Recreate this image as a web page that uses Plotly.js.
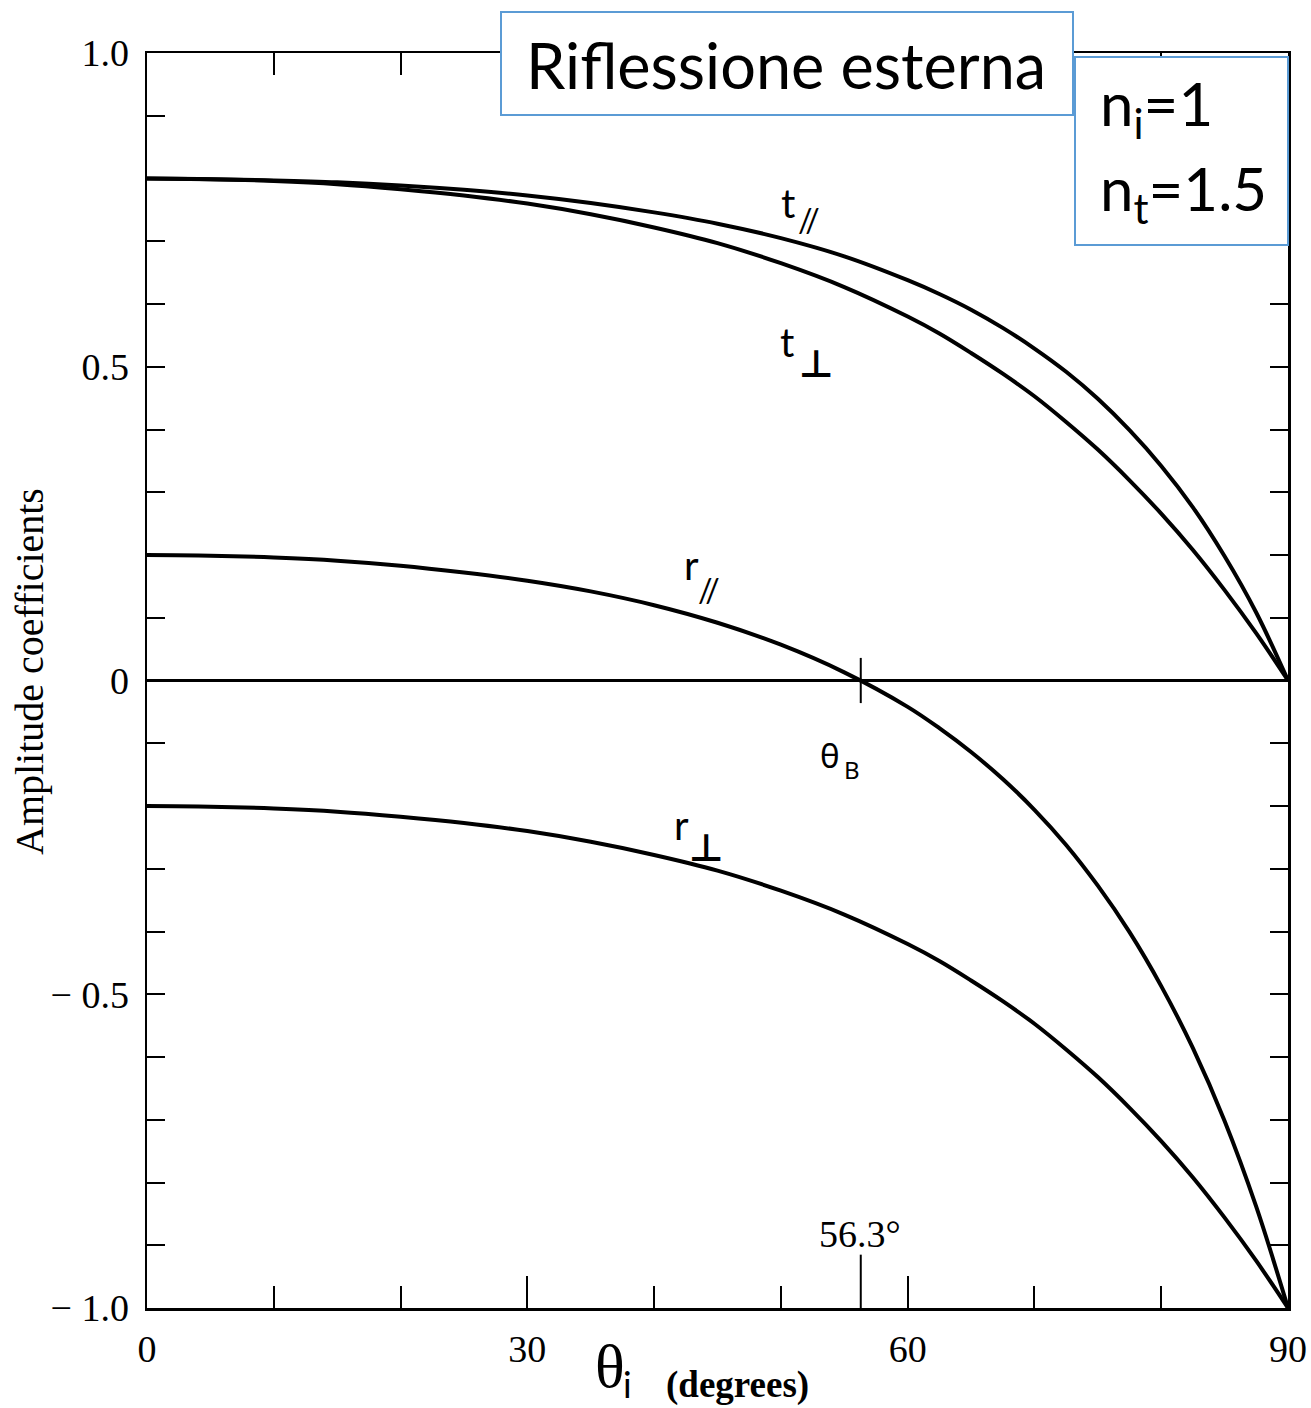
<!DOCTYPE html>
<html><head><meta charset="utf-8">
<script src="https://cdn.plot.ly/plotly-3.0.1.min.js"></script>
<style>html,body{margin:0;padding:0;background:#fff}</style>
</head><body><div id="chart" style="width:1311px;height:1408px"></div>
<script>
// ---- data ----
const theta = [0, 5, 10, 15, 20, 25, 30, 35, 40, 45, 50, 55, 60, 62.5, 65, 67.5, 70, 72.5, 75, 77.5, 80, 82.5, 85, 87.5, 90];
const tPar  = [0.800, 0.799, 0.797, 0.794, 0.789, 0.782, 0.773, 0.761, 0.746, 0.728, 0.705, 0.676, 0.638, 0.616, 0.591, 0.562, 0.529, 0.492, 0.449, 0.399, 0.342, 0.276, 0.198, 0.108, 0.000];
const tPerp = [0.800, 0.799, 0.796, 0.791, 0.783, 0.773, 0.760, 0.743, 0.722, 0.697, 0.665, 0.627, 0.580, 0.553, 0.522, 0.489, 0.453, 0.412, 0.368, 0.319, 0.266, 0.208, 0.144, 0.075, 0.000];
const rPar  = [0.200, 0.199, 0.196, 0.191, 0.183, 0.172, 0.159, 0.142, 0.120, 0.092, 0.057, 0.013, -0.042, -0.076, -0.114, -0.157, -0.206, -0.262, -0.327, -0.401, -0.487, -0.586, -0.702, -0.839, -1.000];
const rPerp = [-0.200, -0.201, -0.204, -0.209, -0.217, -0.227, -0.240, -0.257, -0.278, -0.303, -0.335, -0.373, -0.420, -0.447, -0.478, -0.511, -0.547, -0.588, -0.632, -0.681, -0.734, -0.792, -0.856, -0.925, -1.000];
const brewsterAngle = 56.3;
const xTickVals = [0, 30, 60, 90];
const xTickText = ['0', '30', '60', '90'];
const yTickVals = [-1, -0.5, 0, 0.5, 1];
const yTickText = ['\u2212 1.0', '\u2212 0.5', '0', '0.5', '1.0'];

// ---- layout helpers (pixel -> paper) ----
const W = 1311, H = 1408, L = 147, R = 1288, T = 53, B = 1308;
const px = x => (x - L) / (R - L);
const py = y => (B - y) / (B - T);

const SERIF = 'Liberation Serif, Times New Roman, serif';
const SANS = 'Lato, Carlito, Calibri, sans-serif';

function curve(y) {
  return {x: theta, y: y, mode: 'lines', hoverinfo: 'skip', showlegend: false,
          line: {color: '#000', width: 4, shape: 'spline', smoothing: 1}};
}

function txt(text, x, y, size, family, extra) {
  return Object.assign({text: text, xref: 'paper', yref: 'paper', x: px(x), y: py(y),
    xanchor: 'center', yanchor: 'middle', showarrow: false,
    font: {family: family, size: size, color: '#000'}}, extra || {});
}

const annotations = [
  txt('t', 788, 203, 40, SANS), txt('//', 809, 219, 32, SANS),
  txt('t', 787, 342, 40, SANS), txt('<b>\u22A5</b>', 816, 364, 38, 'DejaVu Sans'),
  txt('r', 691, 565, 40, SANS), txt('//', 709, 589, 32, SANS),
  txt('r', 681, 825, 40, SANS), txt('<b>\u22A5</b>', 706, 848, 38, 'DejaVu Sans'),
  txt('\u03B8', 830, 755, 33, 'Noto Sans'), txt('B', 852, 769, 24, 'Noto Sans'),
  txt('56.3\u00B0', 860, 1234, 38, SERIF),
  txt('Amplitude coefficients', 29, 672, 40, SERIF, {textangle: -90}),
  txt('\u03B8', 610, 1366, 62, SERIF),
  txt('i', 627, 1384, 36, SANS),
  txt('<b>(degrees)</b>', 737, 1385, 37, SERIF),
  txt('Riflessione esterna', 786, 64, 63, SANS),
  txt('n<sub>i</sub>=1', 1098, 108, 60, SANS, {xanchor: 'left'}),
  txt('n<sub>t</sub>=1.5', 1098, 192, 60, SANS, {xanchor: 'left'})
];

const boxColor = '#5B9BD5';
const shapes = [
  {type: 'rect', xref: 'paper', yref: 'paper', x0: px(501), x1: px(1073), y0: py(115), y1: py(12),
   fillcolor: '#fff', line: {color: boxColor, width: 2}, layer: 'above'},
  {type: 'rect', xref: 'paper', yref: 'paper', x0: px(1075), x1: px(1288), y0: py(245), y1: py(57),
   fillcolor: '#fff', line: {color: boxColor, width: 2}, layer: 'above'},
  {type: 'line', xref: 'x', yref: 'y', x0: brewsterAngle, x1: brewsterAngle, y0: -1, y1: -0.915,
   line: {color: '#000', width: 2}},
  {type: 'line', xref: 'x', yref: 'y', x0: brewsterAngle, x1: brewsterAngle, y0: -0.036, y1: 0.036,
   line: {color: '#000', width: 2}}
];

const layout = {
  width: W, height: H,
  margin: {l: L, r: W - R, t: T, b: H - B, pad: 0},
  paper_bgcolor: '#fff', plot_bgcolor: '#fff',
  showlegend: false,
  xaxis: {
    range: [0, 90], tickmode: 'array', tickvals: xTickVals, ticktext: xTickText,
    ticks: 'inside', ticklen: 32, tickwidth: 2, tickcolor: '#000',
    showline: true, linewidth: 2.5, linecolor: '#000', mirror: 'ticks',
    showgrid: false, zeroline: false, ticklabelstandoff: 6,
    tickfont: {family: SERIF, size: 38, color: '#000'},
    minor: {tick0: 0, dtick: 10, ticks: 'inside', ticklen: 22, tickwidth: 2, tickcolor: '#000', showgrid: false}
  },
  yaxis: {
    range: [-1, 1], tickmode: 'array', tickvals: yTickVals, ticktext: yTickText,
    ticks: 'inside', ticklen: 18, tickwidth: 2, tickcolor: '#000',
    showline: true, linewidth: 2.5, linecolor: '#000', mirror: 'ticks',
    showgrid: false, zeroline: true, zerolinecolor: '#000', zerolinewidth: 2.5,
    ticklabelstandoff: 8,
    tickfont: {family: SERIF, size: 38, color: '#000'},
    minor: {tick0: 0, dtick: 0.1, ticks: 'inside', ticklen: 18, tickwidth: 2, tickcolor: '#000', showgrid: false}
  },
  annotations: annotations,
  shapes: shapes
};

Plotly.newPlot('chart', [curve(tPar), curve(tPerp), curve(rPar), curve(rPerp)], layout,
  {staticPlot: true, displayModeBar: false});
</script>
</body></html>
